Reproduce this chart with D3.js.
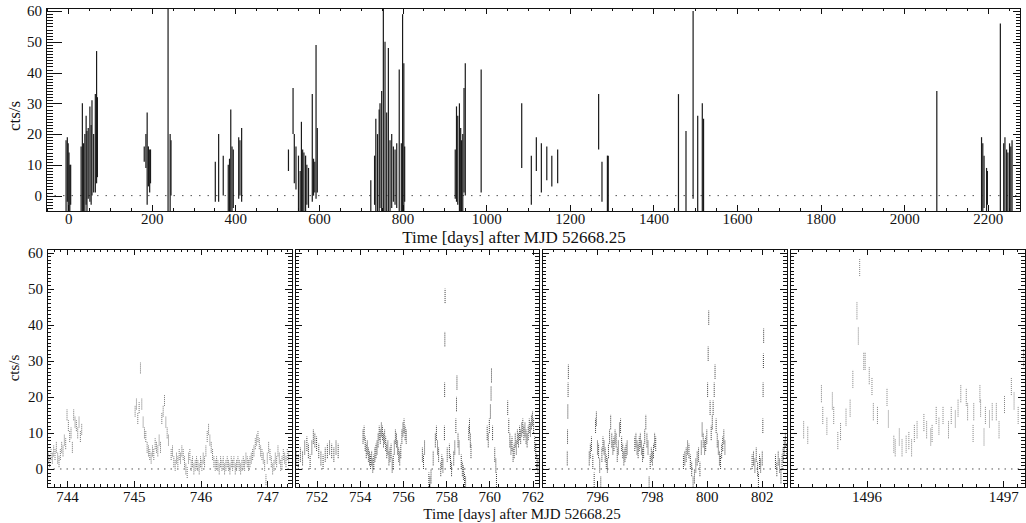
<!DOCTYPE html>
<html>
<head>
<meta charset="utf-8">
<script src="https://cdn.jsdelivr.net/npm/d3@7"></script>
<style>
  body { margin: 0; background: #fff; }
  svg { display: block; }
  text { font-family: "Liberation Serif", "DejaVu Serif", serif; fill: #111; }
</style>
</head>
<body>
<svg id="chart" width="1026" height="523"></svg>
<script>
// ---- data -------------------------------------------------------------
// top panel: each observation drawn as a vertical span (min..max cts/s)
const topDay = [-5, -2, 0, 2, 4, 6,
  31, 34, 37, 40, 43, 45, 48, 52, 55, 57, 61, 65, 68, 70,
  182, 186, 189, 192, 195, 197,
  239, 244, 246,
  352, 360, 371, 383, 386, 389, 392, 395, 408, 411, 415,
  527, 538, 541, 545, 551, 555, 558, 561, 564, 568, 571, 575, 584, 587, 590, 593, 596,
  724, 733, 736, 740, 744, 746, 750, 754, 758, 762, 766, 770, 774, 778, 782, 786, 792, 797, 800, 803, 805,
  926, 929, 932, 936, 939, 941, 944, 947, 950, 988,
  1085, 1108, 1120, 1132, 1145, 1157, 1171,
  1269, 1277, 1290, 1292,
  1460, 1478, 1495, 1506, 1517, 1520,
  2078,
  2185, 2188, 2191, 2197, 2199, 2230, 2238, 2241, 2245, 2248, 2252, 2255, 2258]
const topLow = [-5, -2, -5, -5, -5, -3,
  -5, -5, -5, -5, -3, -5, -1, -2, -3, 0, 1, 1, 4, 6,
  11, 9, -3, 3, 1, 4,
  -5, -5, 0,
  -2, -2, 0, -5, -5, -5, -5, -4, -1, 0, -2,
  8, 20, 4, 2, -5, -5, -5, -5, -5, -5, -3, -4, -2, 0, 1, -1, 1,
  -5, -3, -5, -5, -5, -4, -5, -5, -5, -5, -5, -5, -4, -2, -3, -4, -5, -5, -5, -5, -2,
  -1, -2, -3, -5, -5, -5, -5, 1, 0, 1,
  9, -3, 8, 1, 5, 3, 4,
  15, -2, -5, -5,
  -5, -5, -1, -5, -5, -5,
  -5,
  -5, -5, -4, -5, -3, -5, -5, -5, -5, -5, -5, -5, -5]
const topHigh = [18, 19, 17, 14, 10, 10,
  16, 30, 17, 20, 26, 21, 22, 29, 23, 31, 20, 33, 47, 32,
  16, 20, 27, 16, 15, 15,
  61, 20, 18,
  11, 20, 13, 10, 12, 28, 16, 15, 19, 18, 22,
  15, 35, 20, 16, 13, 8, 24, 15, 14, 13, 10, 9, 33, 12, 11, 49, 22,
  5, 13, 25, 20, 28, 30, 34, 61, 50, 27, 48, 18, 20, 16, 15, 17, 41, 17, 59, 43, 16,
  15, 29, 26, 30, 22, 18, 20, 35, 43, 41,
  30, 13, 19, 17, 16, 13, 15,
  33, 11, 13, 13,
  33, 21, 60, 26, 30, 25,
  34,
  19, 17, 13, 9, 8, 56, 17, 19, 15, 14, 17, 16, 18]

// bottom panels: light-curve points (days after MJD 52668.25, cts/s)
const p1Day = [743.72, 743.74, 743.76, 743.78, 743.80, 743.82, 743.84, 743.86, 743.88, 743.90,
  743.92, 743.94, 743.96, 743.98, 744.00, 744.02, 744.04, 744.06, 744.08, 744.10,
  744.12, 744.14, 744.16, 744.18, 744.20, 744.22,
  745.02, 745.04, 745.06, 745.08, 745.10, 745.12, 745.14, 745.16, 745.18, 745.20,
  745.22, 745.24, 745.26, 745.28, 745.30, 745.32, 745.34, 745.36, 745.38, 745.40,
  745.42, 745.44, 745.46, 745.48, 745.50, 745.52,
  745.56, 745.58, 745.60, 745.62, 745.64, 745.66, 745.68, 745.70, 745.72, 745.74,
  745.76, 745.78, 745.80, 745.82, 745.84, 745.86, 745.88, 745.90, 745.92, 745.94,
  745.96, 745.98, 746.00, 746.02, 746.04, 746.06, 746.08, 746.10, 746.12, 746.14,
  746.16, 746.18, 746.20, 746.22, 746.24, 746.26, 746.28, 746.30, 746.32, 746.34,
  746.36, 746.38, 746.40, 746.42, 746.44, 746.46, 746.48, 746.50, 746.52, 746.54,
  746.56, 746.58, 746.60, 746.62, 746.64, 746.66, 746.68, 746.70, 746.72, 746.74,
  746.76, 746.78, 746.80, 746.82, 746.84, 746.86, 746.88, 746.90, 746.92, 746.94,
  746.96, 746.98, 747.00, 747.02, 747.04, 747.06, 747.08, 747.10, 747.12, 747.14,
  747.16, 747.18, 747.20, 747.22, 747.24, 747.26, 747.28, 747.30, 747.32]
const p1Rate = [3, 2, 4, 3, 5, 4, 6, 3, 2, 4,
  6, 5, 8, 7, 15, 12, 9, 10, 6, 15,
  13, 12, 10, 13, 9, 11,
  16, 18, 14, 17, 28, 18, 13, 10, 9, 6,
  5, 4, 3, 5, 4, 7, 6, 5, 8, 6,
  14, 16, 19, 13, 10, 8,
  4, 5, 2, 1, 3, 2, 4, 3, 5, 4,
  2, 0, -1, 3, 4, 1, 2, 0, 1, 2,
  1, 0, 2, 1, 3, 2, 5, 9, 11, 8,
  6, 4, 2, 1, 2, 1, 0, 2, 1, 2,
  0, 1, 2, 1, 0, 2, 1, 2, 0, 1,
  2, 1, 0, 1, 2, 1, 3, 2, 1, 2,
  3, 4, 5, 7, 8, 9, 7, 5, 4, 3,
  1, -3, 3, 6, 4, 2, 0, 1, 3, 2,
  5, 3, 1, 2, 4, 3, 2, 4, 3]

const p2Day = [751.05, 751.15, 751.25, 751.35, 751.45, 751.55, 751.62, 751.70, 751.78, 751.85,
  751.92, 752.00, 752.10, 752.20, 752.30, 752.40, 752.50, 752.60, 752.70, 752.80,
  752.90, 753.00,
  754.15, 754.20, 754.25, 754.30, 754.35, 754.40, 754.45, 754.50, 754.55, 754.60,
  754.65, 754.70, 754.75, 754.80, 754.85, 754.90, 754.95, 755.00, 755.05, 755.10,
  755.15, 755.20, 755.25, 755.30, 755.35, 755.40, 755.45, 755.50, 755.55, 755.60,
  755.65, 755.70, 755.75, 755.80, 755.85, 755.90, 755.95, 756.00, 756.05, 756.10, 756.15,
  756.90, 756.95, 757.00, 757.20, 757.25, 757.30, 757.40, 757.50, 757.55, 757.60,
  757.65, 757.75, 757.80, 757.85, 757.92, 757.93, 757.94, 757.95, 758.05, 758.15,
  758.20, 758.25, 758.35, 758.40, 758.45, 758.48, 758.50, 758.55, 758.60, 758.70,
  758.75, 758.80, 758.85, 758.90, 759.05, 759.08, 759.12, 759.15,
  759.90, 759.95, 760.00, 760.05, 760.08, 760.10, 760.15, 760.25, 760.30, 760.33,
  760.85, 760.90, 760.95, 761.00, 761.05, 761.10, 761.15, 761.20, 761.25, 761.30,
  761.35, 761.40, 761.45, 761.50, 761.55, 761.60, 761.65, 761.70, 761.75, 761.80,
  761.85, 761.90, 761.95, 762.00, 762.05, 762.10, 762.15, 762.20, 762.25]
const p2Rate = [3, 2, 4, 3, 6, 7, 5, 2, 6, 9,
  8, 7, 5, 3, 2, 4, 5, 6, 5, 4,
  6, 5,
  9, 10, 7, 5, 6, 4, 3, 2, 3, 1,
  2, 4, 5, 6, 8, 10, 9, 11, 10, 8,
  9, 7, 5, 6, 3, 4, 5, 1, 2, 6,
  9, 8, 6, 4, 3, 5, 9, 11, 12, 10, 9,
  4, 2, 6, -3, -4, -2, 3, 8, 10, 6,
  4, 0, 2, 1, 10, 22, 36, 48, 4, 5,
  2, 0, 3, 6, 12, 18, 24, 8, 6, 2,
  0, -1, -3, -4, 10, 12, 8, 5,
  10, 8, 12, 16, 21, 26, 10, 4, 1, -3,
  17, 12, 8, 6, 7, 4, 5, 8, 6, 9,
  8, 10, 9, 11, 12, 10, 11, 9, 8, 10,
  12, 11, 13, 14, 12, 7, 5, 2, 1]

const p3Day = [794.92, 794.93, 794.94, 794.95, 794.96,
  795.72, 795.76, 795.80, 795.85, 795.90, 795.95, 795.98, 796.02, 796.06, 796.10,
  796.14, 796.18, 796.22, 796.26, 796.30, 796.34, 796.38, 796.42, 796.46, 796.50,
  796.54, 796.58, 796.62, 796.66, 796.70, 796.74, 796.78, 796.82, 796.86, 796.90,
  796.94, 796.98, 797.02, 797.06, 797.10,
  797.38, 797.42, 797.46, 797.50, 797.54, 797.58, 797.62, 797.66, 797.70, 797.74,
  797.78, 797.82, 797.86, 797.90, 797.94, 797.98, 798.02, 798.06, 798.10, 798.14,
  799.15, 799.20, 799.25, 799.30, 799.35, 799.40, 799.45, 799.50, 799.55, 799.60,
  799.65, 799.70, 799.75, 799.80, 799.83, 799.87, 799.92, 799.96, 800.00, 800.03,
  800.05, 800.07, 800.12, 800.16, 800.20, 800.23, 800.27, 800.30, 800.34, 800.38,
  800.42, 800.46, 800.50, 800.54, 800.58, 800.62, 800.66,
  801.65, 801.70, 801.75, 801.80, 801.85, 801.88, 801.92, 801.96, 802.02, 802.04,
  802.05, 802.06, 802.07,
  802.50, 802.55, 802.60, 802.65, 802.70, 802.74, 802.78, 802.82, 802.86, 802.90]
const p3Rate = [3, 9, 16, 22, 27,
  3, 5, 7, 2, -3, 12, 14, 6, 5, 1,
  -4, 4, 7, 6, 4, 2, 1, 5, 9, 13,
  8, 6, 7, 9, 8, 4, 6, 11, 12, 7,
  5, 3, 4, 5, 6,
  7, 8, 6, 5, 7, 8, 6, 4, 5, 9,
  13, 8, 6, -4, 2, 4, 3, 5, 8, 7,
  2, 3, 4, 6, 5, 2, 0, -4, -2, 1,
  3, 4, 0, 6, 11, 8, 6, 7, 9, 22,
  32, 42, 17, 10, 13, 17, 22, 27, 12, 8,
  6, 3, 2, 5, 7, 9, 6,
  2, 3, 1, 4, 0, -3, 2, 1, 3, 12,
  22, 30, 37,
  2, 0, 3, 1, -2, 2, 4, 6, 8, 5]

const p4Day = [1495.54, 1495.57, 1495.67, 1495.68, 1495.71, 1495.75, 1495.76, 1495.79, 1495.81, 1495.85,
  1495.88, 1495.90, 1495.93, 1495.94, 1495.95, 1495.98, 1495.99, 1496.02, 1496.04, 1496.05,
  1496.08, 1496.15, 1496.16, 1496.20, 1496.21, 1496.24, 1496.26, 1496.29, 1496.31, 1496.33,
  1496.35, 1496.37, 1496.42, 1496.44, 1496.47, 1496.48, 1496.51, 1496.53, 1496.56, 1496.60,
  1496.62, 1496.65, 1496.67, 1496.69, 1496.73, 1496.74, 1496.78, 1496.785, 1496.83, 1496.835,
  1496.86, 1496.87, 1496.90, 1496.92, 1496.95, 1496.97, 1497.01, 1497.06, 1497.08, 1497.11,
  1497.15]
const p4Rate = [11, 9.5, 21, 15, 12, 19, 15, 8, 10.5, 14.5,
  17, 25, 44, 37, 56, 30, 30, 26, 23, 16,
  15, 20, 14, 7, 6, 9, 6, 7, 8, 6,
  10, 11, 13, 11, 9, 10, 15, 12, 15, 11,
  15, 14, 17, 21, 20, 16, 10, 16, 21, 17,
  9, 15, 14, 16, 16, 11, 18, 23, 19, 15,
  31]

// typical error-bar half widths, cts/s
const p1Err = 1.5
const p2Err = 2
const p3Err = 2
const p4Err = 2.5

const yTicks = [0, 10, 20, 30, 40, 50, 60]
const topTicks = [0, 200, 400, 600, 800, 1000, 1200, 1400, 1600, 1800, 2000, 2200]
const p1Ticks = [744, 745, 746, 747]
const p2Ticks = [752, 754, 756, 758, 760, 762]
const p3Ticks = [796, 798, 800, 802]
const p4Ticks = [1496, 1497]
const xTitle = 'Time [days] after MJD 52668.25'
const yTitle = 'cts/s'

// ---- layout -----------------------------------------------------------
const svg = d3.select('#chart')
const yDomain = [-5, 61]

function clean (g) {
  g.select('.domain').remove()
  g.selectAll('line').attr('stroke', '#111').attr('shape-rendering', 'crispEdges')
  g.selectAll('text').attr('font-size', 15).attr('fill', '#111')
}

/**
 * Frame with inward major/minor ticks on all four sides
 */
function drawFrame (g, x, y, o) {
  const [xl, xr] = x.range()
  const [yb, yt] = y.range()
  const xd = x.domain()
  const xMinor = d3.range(Math.ceil(xd[0] / o.xMinor) * o.xMinor, xd[1], o.xMinor)
  const yMinor = d3.range(-5, 61, 1)

  g.append('g').attr('transform', `translate(0,${yb})`)
    .call(d3.axisBottom(x).tickValues(xMinor).tickSize(-3).tickFormat('')).call(clean)
  g.append('g').attr('transform', `translate(0,${yb})`)
    .call(d3.axisBottom(x).tickValues(o.xTicks).tickSize(-o.xMajor).tickPadding(o.xPad).tickFormat(d3.format('d')))
    .call(clean)
  g.append('g').attr('transform', `translate(0,${yt})`)
    .call(d3.axisTop(x).tickValues(xMinor).tickSize(-3).tickFormat('')).call(clean)
  g.append('g').attr('transform', `translate(0,${yt})`)
    .call(d3.axisTop(x).tickValues(o.xTicks).tickSize(-o.xMajor).tickFormat('')).call(clean)

  g.append('g').attr('transform', `translate(${xl},0)`)
    .call(d3.axisLeft(y).tickValues(yMinor).tickSize(-o.yMinorL).tickFormat('')).call(clean)
  g.append('g').attr('transform', `translate(${xl},0)`)
    .call(d3.axisLeft(y).tickValues(yTicks).tickSize(-o.yMajorL).tickPadding(4)
      .tickFormat(o.yLabels ? d3.format('d') : ''))
    .call(clean)
  g.append('g').attr('transform', `translate(${xr},0)`)
    .call(d3.axisRight(y).tickValues(yMinor).tickSize(-o.yMinorR).tickFormat('')).call(clean)
  g.append('g').attr('transform', `translate(${xr},0)`)
    .call(d3.axisRight(y).tickValues(yTicks).tickSize(-o.yMajorR).tickFormat('')).call(clean)

  g.append('rect')
    .attr('x', xl).attr('y', yt)
    .attr('width', xr - xl).attr('height', yb - yt)
    .attr('fill', 'none').attr('stroke', '#111').attr('stroke-width', 1)
    .attr('shape-rendering', 'crispEdges')
}

function zeroLine (g, x, y, dash) {
  g.append('line')
    .attr('x1', x.range()[0]).attr('x2', x.range()[1])
    .attr('y1', y(0)).attr('y2', y(0))
    .attr('stroke', '#555').attr('stroke-width', 1)
    .attr('stroke-dasharray', dash)
}

// ---- top panel --------------------------------------------------------
const xTop = d3.scaleLinear().domain([-53, 2277]).range([46, 1020])
const yTop = d3.scaleLinear().domain(yDomain).range([211, 8])
const gTop = svg.append('g')

gTop.append('clipPath').attr('id', 'clip-top')
  .append('rect').attr('x', 46).attr('y', 8).attr('width', 974).attr('height', 203)

zeroLine(gTop, xTop, yTop, '1.5,7')

gTop.append('g').attr('clip-path', 'url(#clip-top)')
  .selectAll('line')
  .data(topDay.map((d, i) => ({ t: d, lo: topLow[i], hi: topHigh[i] })))
  .join('line')
  .attr('x1', d => xTop(d.t)).attr('x2', d => xTop(d.t))
  .attr('y1', d => yTop(d.lo)).attr('y2', d => yTop(d.hi))
  .attr('stroke', '#1a1a1a').attr('stroke-width', 1.2)

drawFrame(gTop, xTop, yTop, {
  xTicks: topTicks, xMinor: 50, xMajor: 6, xPad: 2,
  yMajorL: 16, yMinorL: 7, yMajorR: 7, yMinorR: 4, yLabels: true
})

gTop.append('text')
  .attr('x', 514).attr('y', 243)
  .attr('text-anchor', 'middle').attr('font-size', 17)
  .text(xTitle)

gTop.append('text')
  .attr('transform', 'translate(20,116) rotate(-90)')
  .attr('text-anchor', 'middle').attr('font-size', 17)
  .text(yTitle)

// ---- bottom panels ----------------------------------------------------
const panels = [
  { day: p1Day, rate: p1Rate, err: p1Err, domain: [743.7, 747.37], range: [47, 292], ticks: p1Ticks, minor: 0.1, yLabels: true, color: '#707070' },
  { day: p2Day, rate: p2Rate, err: p2Err, domain: [751.0, 762.3], range: [295, 539], ticks: p2Ticks, minor: 0.4, yLabels: false, color: '#3a3a3a' },
  { day: p3Day, rate: p3Rate, err: p3Err, domain: [794.0, 802.92], range: [542, 787], ticks: p3Ticks, minor: 0.4, yLabels: false, color: '#3a3a3a' },
  { day: p4Day, rate: p4Rate, err: p4Err, domain: [1495.44, 1497.16], range: [790, 1025], ticks: p4Ticks, minor: 0.1, yLabels: false, color: '#808080' }
]

const yBot = d3.scaleLinear().domain(yDomain).range([487, 249])

panels.forEach((p, k) => {
  const x = d3.scaleLinear().domain(p.domain).range(p.range)
  const g = svg.append('g')
  const id = `clip-p${k}`

  g.append('clipPath').attr('id', id)
    .append('rect').attr('x', p.range[0]).attr('y', 249)
    .attr('width', p.range[1] - p.range[0]).attr('height', 238)

  zeroLine(g, x, yBot, '1.5,5')

  g.append('g').attr('clip-path', `url(#${id})`)
    .selectAll('line')
    .data(p.day.map((d, i) => ({ t: d, r: p.rate[i] })))
    .join('line')
    .attr('x1', d => x(d.t)).attr('x2', d => x(d.t))
    .attr('y1', d => yBot(d.r - p.err)).attr('y2', d => yBot(d.r + p.err))
    .attr('stroke', p.color).attr('stroke-width', 1)
    .attr('stroke-dasharray', '1,1')

  drawFrame(g, x, yBot, {
    xTicks: p.ticks, xMinor: p.minor, xMajor: 6, xPad: 4,
    yMajorL: 7, yMinorL: 4, yMajorR: 7, yMinorR: 4, yLabels: p.yLabels
  })
})

svg.append('text')
  .attr('x', 522).attr('y', 519)
  .attr('text-anchor', 'middle').attr('font-size', 15)
  .text(xTitle)

svg.append('text')
  .attr('transform', 'translate(19,368) rotate(-90)')
  .attr('text-anchor', 'middle').attr('font-size', 15)
  .text(yTitle)
</script>
</body>
</html>
